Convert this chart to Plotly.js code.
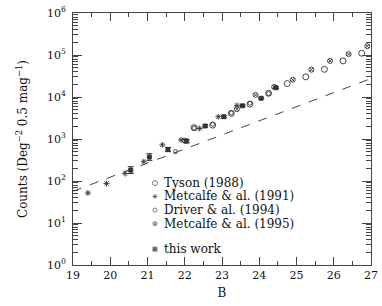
<!DOCTYPE html>
<html>
<head>
<meta charset="utf-8">
<script src="https://cdn.plot.ly/plotly-3.0.1.min.js"></script>
<style>html,body{margin:0;padding:0;background:#fff;}#chart{width:382px;height:306px;}</style>
</head>
<body>
<div id="chart"></div>
<script>
// ---- data ----
const tysonB      = [22.25, 22.75, 23.25, 23.75, 24.25, 24.75, 25.25, 25.75, 26.25, 26.75];
const tysonN      = [1860, 2140, 4070, 6760, 12300, 20900, 30200, 45700, 72400, 110000];
const metc91B     = [19.4, 19.9, 20.4, 20.9, 21.4, 21.9, 22.4, 22.9, 23.4];
const metc91N     = [52, 87, 151, 288, 724, 955, 1780, 3390, 6310];
const driverB     = [21.75, 22.25, 22.75, 23.25, 23.75, 24.25];
const driverN     = [500, 1820, 2240, 4170, 7080, 12000];
const metc95B     = [22.0, 23.4, 23.9, 24.4, 24.9, 25.4, 25.9, 26.4, 26.9];
const metc95N     = [912, 5130, 11200, 17400, 25700, 44700, 72400, 105000, 162000];
const workB       = [20.55, 21.05, 21.55, 22.05, 22.55, 23.05, 23.55, 24.05, 24.45];
const workN       = [182, 372, 562, 891, 2040, 3390, 6170, 9330, 16600];
const workErrUp   = [37, 75, 69, 86, 147, 244, 290, 439, 780];
const workErrDown = [31, 62, 61, 78, 137, 227, 278, 420, 747];
const modelB      = [19, 27];
const modelN      = [57, 27500];
const legendLabels = ["Tyson (1988)", "Metcalfe & al. (1991)", "Driver & al. (1994)", "Metcalfe & al. (1995)", "this work"];
const yTickVals   = [1, 10, 100, 1000, 10000, 100000, 1000000];
const yTickText   = ["10<sup>0</sup>", "10<sup>1</sup>", "10<sup>2</sup>", "10<sup>3</sup>", "10<sup>4</sup>", "10<sup>5</sup>", "10<sup>6</sup>"];
const xTickVals   = [19, 20, 21, 22, 23, 24, 25, 26, 27];

// ---- styles ----
const FONT = "DejaVu Serif, Liberation Serif, serif";
const INK = "#111";
const MARK = "#333";
const styles = [
  {symbol: "circle-open", size: 6, leg: 5},
  {symbol: "asterisk-open", size: 5, leg: 4},
  {symbol: "circle-open", size: 4, leg: 4},
  {symbol: "circle-x-open", size: 5, leg: 4},
  {symbol: "square", size: 4, leg: 4}
];
const legX = 0.275, legTextX = 0.297;
const legY = [0.325, 0.272, 0.218, 0.164, 0.063];

function mk(sty) {
  return {symbol: sty.symbol, size: sty.size, color: MARK, line: {color: MARK, width: 0.9}};
}

const traces = [
  {x: modelB, y: modelN, mode: "lines", line: {color: "#444", width: 1, dash: "dash"}, showlegend: false, hoverinfo: "skip"},
  {x: tysonB, y: tysonN, mode: "markers", marker: mk(styles[0]), showlegend: false},
  {x: metc91B, y: metc91N, mode: "markers", marker: mk(styles[1]), showlegend: false},
  {x: driverB, y: driverN, mode: "markers", marker: mk(styles[2]), showlegend: false},
  {x: metc95B, y: metc95N, mode: "markers", marker: mk(styles[3]), showlegend: false},
  {x: workB, y: workN, mode: "markers", marker: mk(styles[4]), showlegend: false,
   error_y: {type: "data", array: workErrUp, arrayminus: workErrDown, width: 3, thickness: 1, color: MARK}},
  // manual legend symbols on a hidden overlay axis
  {x: legendLabels.map(() => legX), y: legY, xaxis: "x2", yaxis: "y2", mode: "markers", showlegend: false, hoverinfo: "skip",
   marker: {symbol: styles.map(s => s.symbol), size: styles.map(s => s.leg), color: MARK, line: {color: MARK, width: 0.9}}}
];

const annotations = legendLabels.map((t, i) => ({
  text: t, xref: "paper", yref: "paper", x: legTextX, y: legY[i], xanchor: "left", yanchor: "middle",
  showarrow: false, font: {family: FONT, size: 12, color: INK}
}));

const layout = {
  width: 382, height: 306,
  margin: {l: 73, r: 11, t: 13, b: 41},
  paper_bgcolor: "#fff", plot_bgcolor: "#fff",
  font: {family: FONT, size: 11, color: INK},
  showlegend: false,
  xaxis: {
    range: [19, 27], tickmode: "array", tickvals: xTickVals,
    ticks: "inside", ticklen: 8, tickwidth: 1, tickcolor: "#444",
    minor: {dtick: 0.5, tick0: 19, ticks: "inside", ticklen: 4, tickcolor: "#444"},
    showline: true, linecolor: "#444", linewidth: 1, mirror: "allticks",
    showgrid: false, zeroline: false,
    tickfont: {family: FONT, size: 11, color: INK},
    title: {text: "B", font: {family: FONT, size: 12, color: INK}, standoff: 7}
  },
  yaxis: {
    type: "log", range: [0, 6], tickmode: "array", tickvals: yTickVals, ticktext: yTickText,
    ticks: "inside", ticklen: 9, tickwidth: 1, tickcolor: "#444",
    minor: {dtick: "D1", ticks: "inside", ticklen: 5, tickcolor: "#444"},
    showline: true, linecolor: "#444", linewidth: 1, mirror: "allticks",
    showgrid: false, zeroline: false, ticklabelstandoff: 4,
    tickfont: {family: FONT, size: 11, color: INK},
    title: {text: "Counts (Deg<sup>−2</sup> 0.5 mag<sup>−1</sup>)", font: {family: FONT, size: 12, color: INK}, standoff: 16}
  },
  xaxis2: {overlaying: "x", range: [0, 1], visible: false, anchor: "y2"},
  yaxis2: {overlaying: "y", range: [0, 1], visible: false, anchor: "x2"},
  annotations: annotations
};

Plotly.newPlot("chart", traces, layout, {displayModeBar: false, staticPlot: true});
</script>
</body>
</html>
